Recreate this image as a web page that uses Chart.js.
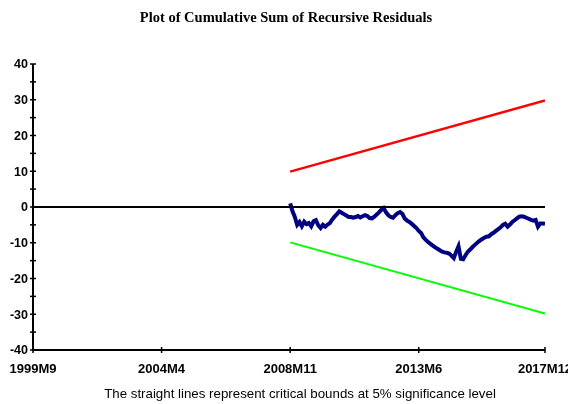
<!DOCTYPE html>
<html>
<head>
<meta charset="utf-8">
<script src="https://cdn.jsdelivr.net/npm/chart.js@4/dist/chart.umd.min.js"></script>
<style>
  html, body { margin: 0; padding: 0; background: #fff; }
  canvas { display: block; }
</style>
</head>
<body>
<canvas id="chart" width="568" height="404"></canvas>
<script>
"use strict";

// month index 0 = 1999M9, 219 = 2017M12
const tickMonths = [0, 55, 110, 165, 219];
const tickLabels = ["1999M9", "2004M4", "2008M11", "2013M6", "2017M12"];
const yTicks = [40, 30, 20, 10, 0, -10, -20, -30, -40];

const cusumStartMonth = 110;
const cusum = [
  1, -1.2, -2.8, -5, -4.2, -5.4, -4.1, -4.8, -4.5, -5.4,
  -4, -3.7, -5.1, -5.9, -5, -5.5, -4.9, -4.5, -3.5, -2.7,
  -2, -1.2, -1.6, -2, -2.4, -2.8, -2.8, -3, -2.8, -2.5,
  -2.9, -2.6, -2.3, -2.5, -3.1, -3.2, -2.7, -2.1, -1.5, -0.8,
  -0.3, -1.5, -2.3, -2.8, -3, -2.3, -1.7, -1.4, -1.9, -3.2,
  -3.8, -4.2, -4.7, -5.3, -5.9, -6.7, -7.3, -8.5, -9.2, -9.8,
  -10.3, -10.8, -11.3, -11.7, -12.1, -12.5, -12.7, -12.8, -13, -13.6,
  -14.3, -12.5, -11, -14.5, -14.6, -13.5, -12.5, -11.9, -11.2, -10.6,
  -10, -9.5, -9, -8.6, -8.3, -8.2, -7.6, -7.2, -6.7, -6.2,
  -5.7, -5, -4.7, -5.5, -4.9, -4.2, -3.7, -3.2, -2.7, -2.6,
  -2.7, -3, -3.3, -3.6, -3.8, -3.6, -5.5, -4.6, -4.6, -4.7
];

const boundMonths = [110, 219];
const upperBound = [9.9, 29.8];
const lowerBound = [-9.9, -29.8];

function toPoints(xs, ys) {
  return ys.map((y, i) => ({ x: xs[i], y: y }));
}

const cusumPoints = cusum.map((v, i) => ({ x: cusumStartMonth + i, y: v }));

const axesPlugin = {
  id: "eviewsAxes",
  afterDatasetsDraw(chart) {
    const ctx = chart.ctx;
    const area = chart.chartArea;
    const xs = chart.scales.x;
    const ys = chart.scales.y;

    ctx.save();
    ctx.strokeStyle = "#000";
    ctx.fillStyle = "#000";

    // zero line
    ctx.lineWidth = 2;
    ctx.beginPath();
    ctx.moveTo(area.left, ys.getPixelForValue(0));
    ctx.lineTo(area.right, ys.getPixelForValue(0));
    ctx.stroke();

    // axes
    ctx.beginPath();
    ctx.moveTo(area.left, area.top);
    ctx.lineTo(area.left, area.bottom);
    ctx.lineTo(area.right, area.bottom);
    ctx.stroke();

    // y ticks every 5, labels every 10
    ctx.lineWidth = 1.5;
    for (let v = -40; v <= 40; v += 5) {
      const py = ys.getPixelForValue(v);
      ctx.beginPath();
      ctx.moveTo(area.left - 3, py);
      ctx.lineTo(area.left + 3, py);
      ctx.stroke();
    }
    ctx.font = "bold 12.5px 'Liberation Sans', Arial, sans-serif";
    ctx.textAlign = "right";
    ctx.textBaseline = "middle";
    for (const v of yTicks) {
      ctx.fillText(String(v), area.left - 5, ys.getPixelForValue(v) + 1);
    }

    // x ticks
    ctx.font = "bold 13px 'Liberation Sans', Arial, sans-serif";
    ctx.textAlign = "center";
    ctx.textBaseline = "top";
    tickMonths.forEach((m, i) => {
      const px = xs.getPixelForValue(m);
      ctx.beginPath();
      ctx.moveTo(px, area.bottom - 3);
      ctx.lineTo(px, area.bottom + 3);
      ctx.stroke();
      ctx.fillText(tickLabels[i], px, area.bottom + 13);
    });

    // title
    ctx.font = "bold 14.5px 'Liberation Serif', 'Times New Roman', serif";
    ctx.textBaseline = "middle";
    ctx.fillText("Plot of Cumulative Sum of Recursive Residuals", 286, 18);

    // note
    ctx.font = "13.3px 'Liberation Sans', Arial, sans-serif";
    ctx.fillText("The straight lines represent critical bounds at 5% significance level", 300, 394);
    ctx.restore();
  }
};

new Chart(document.getElementById("chart").getContext("2d"), {
  type: "line",
  data: {
    datasets: [
      {
        data: toPoints(boundMonths, upperBound),
        borderColor: "#ff0000",
        borderWidth: 2.5,
        pointRadius: 0
      },
      {
        data: toPoints(boundMonths, lowerBound),
        borderColor: "#00ff00",
        borderWidth: 2,
        pointRadius: 0
      },
      {
        data: cusumPoints,
        borderColor: "#000080",
        borderWidth: 4,
        pointRadius: 0,
        tension: 0
      }
    ]
  },
  options: {
    responsive: false,
    animation: false,
    layout: { padding: { left: 33, right: 23, top: 64, bottom: 54 } },
    plugins: {
      legend: { display: false },
      tooltip: { enabled: false }
    },
    scales: {
      x: { type: "linear", min: 0, max: 219, display: false },
      y: { type: "linear", min: -40, max: 40, display: false }
    }
  },
  plugins: [axesPlugin]
});
</script>
</body>
</html>
